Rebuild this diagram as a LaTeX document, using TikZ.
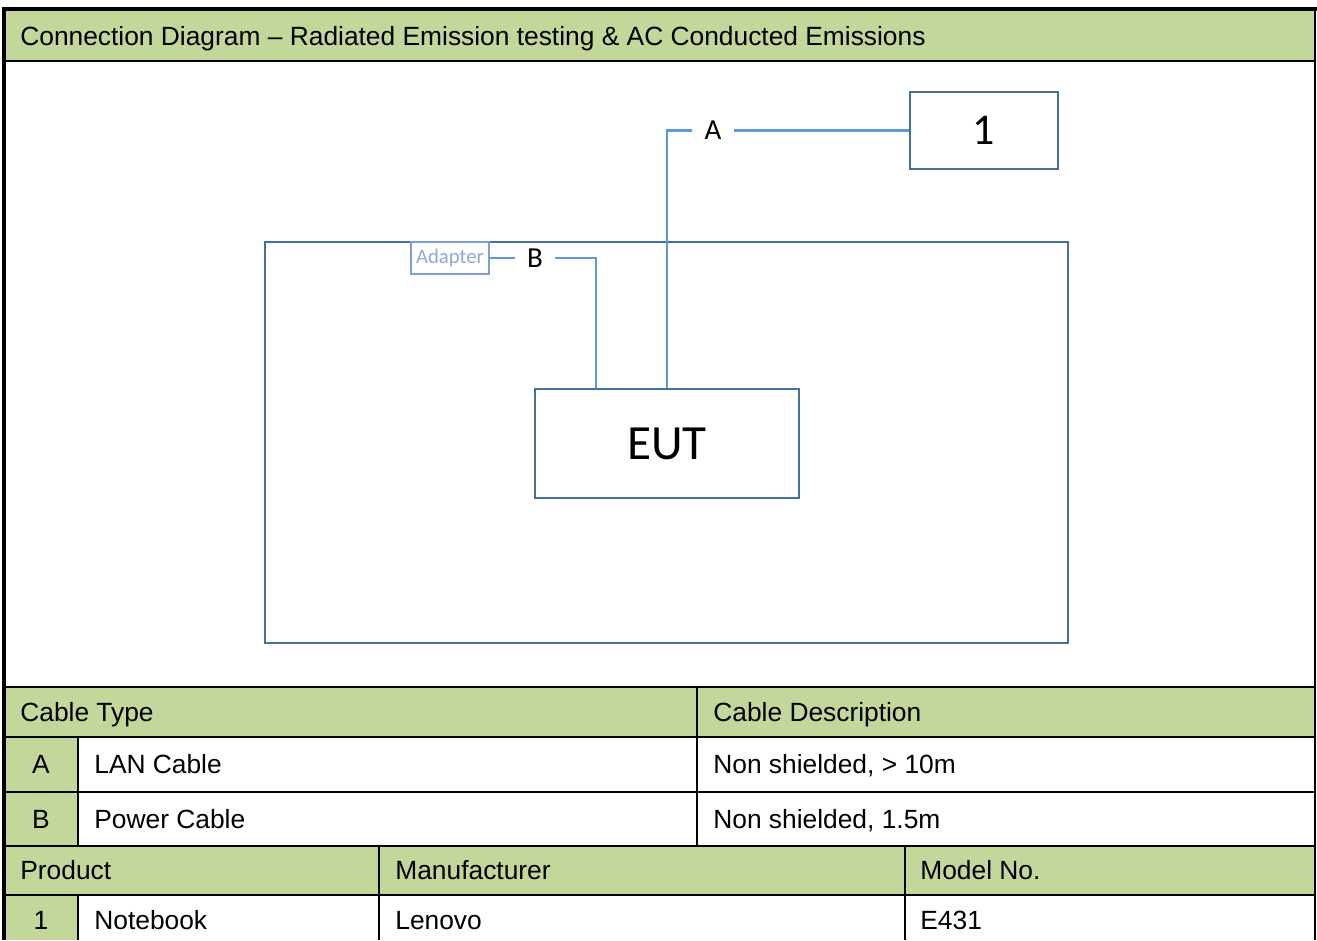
\documentclass[tikz,border=0pt]{standalone}
\usepackage{fontspec}
\setmainfont{Liberation Sans}
\newfontfamily\calfont{Carlito}
\usetikzlibrary{positioning}
\definecolor{hdrgreen}{HTML}{C4D79B}
\definecolor{boxblue}{HTML}{41719C}
\definecolor{cableblue}{HTML}{5B9BD5}
\definecolor{adptline}{HTML}{7F9FCF}
\definecolor{adpttext}{HTML}{8EA9DB}

\begin{document}
\begin{tikzpicture}[x=0.02cm, y=-0.02cm,
  unit/.style={draw=boxblue, line width=1.35pt, inner sep=0pt},
  cable/.style={draw=cableblue, line width=1.45pt},
  cablelbl/.style={font=\calfont\fontsize{16.5}{19}\selectfont, inner xsep=0.24cm, inner ysep=0pt},
  cell/.style={anchor=base west, inner sep=0pt, font=\fontsize{15}{18}\selectfont},
  idcell/.style={anchor=base, inner sep=0pt, font=\fontsize{15}{18}\selectfont},
  grid/.style={line width=1.2pt}]

\useasboundingbox (0,0) rectangle (1317,940);

% green bands of the sheet
\fill[hdrgreen] (4,9) rectangle (1315,61);
\fill[hdrgreen] (4,687) rectangle (1315,737);
\fill[hdrgreen] (4,737) rectangle (78,846);
\fill[hdrgreen] (4,846) rectangle (1315,895);
\fill[hdrgreen] (4,895) rectangle (78,940);

% rules
\draw[line width=2.3pt] (4,940) -- (4,9) -- (1317,9);
\draw[grid] (1315,9) -- (1315,940);
\foreach \y in {61,687,737,792,846,895}
  \draw[grid] (4,\y) -- (1315,\y);
\draw[grid] (78,737) -- (78,846);
\draw[grid] (697,687) -- (697,846);
\draw[grid] (78,895) -- (78,940);
\draw[grid] (379,846) -- (379,940);
\draw[grid] (905,846) -- (905,940);

% texts of the sheet
\node[cell] (title) at (20,45) {Connection Diagram – Radiated Emission testing \& AC Conducted Emissions};
\node[cell] (hdrtype) at (20,721) {Cable Type};
\node[cell] (hdrdesc) at (713,721) {Cable Description};
\node[idcell] (ida) at (41,773) {A};
\node[cell] (typea) at (94,773) {LAN Cable};
\node[cell] (desca) at (713,773) {Non shielded, > 10m};
\node[idcell] (idb) at (41,828) {B};
\node[cell] (typeb) at (94,828) {Power Cable};
\node[cell] (descb) at (713,828) {Non shielded, 1.5m};
\node[cell] (hdrprod) at (20,879) {Product};
\node[cell] (hdrmanu) at (395,879) {Manufacturer};
\node[cell] (hdrmodel) at (920,879) {Model No.};
\node[idcell] (idone) at (41,929) {1};
\node[cell] (prodone) at (94,929) {Notebook};
\node[cell] (manuone) at (395,929) {Lenovo};
\node[cell] (modelone) at (920,929) {E431};

% test set-up
\node[unit, minimum width=16.06cm, minimum height=8.02cm] (bench) at (666.5,442.5) {};
\node[unit, fill=white, minimum width=5.28cm, minimum height=2.18cm,
      font=\calfont\fontsize{28}{32}\selectfont] (eut) at (667,443.5) {EUT};
\node[unit, fill=white, minimum width=2.96cm, minimum height=1.54cm,
      font=\calfont\fontsize{25}{28}\selectfont] (notebook) at (984,130.5) {1};
\node[draw=adptline, line width=1.1pt, fill=white, inner sep=0pt, minimum width=1.56cm, minimum height=0.64cm,
      text=adpttext, font=\calfont\fontsize{11.8}{13}\selectfont] (adapter) at (450,258) {Adapter};

\node[cablelbl] (laba) at (713,130.5) {A};
\node[cablelbl] (labb) at (535,258) {B};

\draw[cable] (eut.north) |- (laba.west);
\draw[cable] (laba.east) -- (notebook.west);
\draw[cable] (adapter.east) -- (labb.west);
\draw[cable] (labb.east) -| ([xshift=1.24cm]eut.north west);
\end{tikzpicture}
\end{document}
